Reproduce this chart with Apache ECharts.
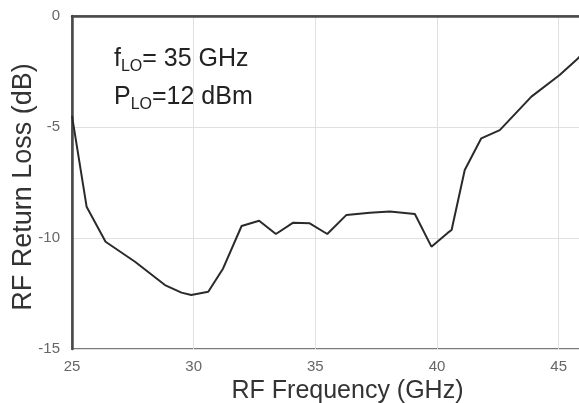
<!DOCTYPE html>
<html><head><meta charset="utf-8">
<script src="https://cdn.jsdelivr.net/npm/echarts@6/dist/echarts.min.js"></script>
<style>html,body{margin:0;padding:0;background:#fff}#c{width:579px;height:403px}</style>
</head><body><div id="c"></div>
<script>
var freq = [25.0, 25.6, 26.38, 27.59, 28.82, 29.5, 29.9, 30.6, 31.21, 31.97, 32.69, 33.38, 34.09, 34.77, 35.49, 36.28, 37.24, 38.06, 39.09, 39.77, 40.45, 40.6, 41.14, 41.82, 42.58, 43.88, 45.04, 45.79, 46.0];
var returnLoss = [-4.5, -8.59, -10.17, -11.07, -12.12, -12.46, -12.57, -12.42, -11.37, -9.46, -9.22, -9.82, -9.31, -9.34, -9.82, -8.96, -8.86, -8.81, -8.92, -10.39, -9.76, -9.64, -6.94, -5.51, -5.14, -3.63, -2.66, -1.91, -1.65];
var xTicks = [25, 30, 35, 40, 45];
var yTicks = [0, -5, -10, -15];
var yTitle = 'RF Return Loss (dB)';

var chart = echarts.init(document.getElementById('c'), null, {renderer: 'canvas'});
var font = '"Liberation Sans", Arial, sans-serif';
chart.setOption({
  animation: false,
  grid: {left: 72, top: 16, width: 511, height: 333, show: true, borderColor: '#7a7a7a', borderWidth: 2,
         containLabel: false, outerBoundsMode: 'none'},
  xAxis: {
    type: 'value', min: 25, max: 46, interval: 5,
    name: 'RF Frequency (GHz)', nameLocation: 'middle', nameGap: 22,
    nameTextStyle: {fontFamily: font, fontSize: 25, color: '#333', padding: [0, 0, 0, 40]},
    axisLine: {lineStyle: {color: '#4a4a4a', width: 2.5}},
    axisTick: {show: false},
    axisLabel: {fontFamily: font, fontSize: 15, color: '#666', margin: 10,
      formatter: function(v){ return xTicks.indexOf(v) >= 0 ? String(v) : ''; }},
    splitLine: {show: true, lineStyle: {color: '#e0e0e0', width: 1}}
  },
  yAxis: {
    type: 'value', min: -15, max: 0, interval: 5,
    axisLine: {onZero: false, lineStyle: {color: '#4a4a4a', width: 2.5}},
    axisTick: {show: false},
    axisLabel: {fontFamily: font, fontSize: 15, color: '#666', margin: 12,
      formatter: function(v){ return yTicks.indexOf(v) >= 0 ? String(v) : ''; }},
    splitLine: {show: true, lineStyle: {color: '#e0e0e0', width: 1}}
  },
  series: [{
    type: 'line', data: freq.map(function(f, i){ return [f, returnLoss[i]]; }),
    showSymbol: false, clip: true,
    lineStyle: {color: '#2a2a2a', width: 2}
  }],
  graphic: [{
    type: 'text', x: 24, y: 187, rotation: Math.PI / 2,
    style: {text: yTitle, fontFamily: font, fontSize: 27, fill: '#333', align: 'center', verticalAlign: 'middle'}
  }, {
    type: 'text', left: 114, top: 47,
    style: {
      rich: {
        m: {fontFamily: font, fontSize: 25, fill: '#222'},
        s: {fontFamily: font, fontSize: 16, fill: '#222', padding: [14, 0, 0, 0]}
      },
      text: '{m|f}{s|LO}{m|= 35 GHz}'
    }
  }, {
    type: 'text', left: 114, top: 85,
    style: {
      rich: {
        m: {fontFamily: font, fontSize: 25, fill: '#222'},
        s: {fontFamily: font, fontSize: 16, fill: '#222', padding: [14, 0, 0, 0]}
      },
      text: '{m|P}{s|LO}{m|=12 dBm}'
    }
  }]
});
</script></body></html>
